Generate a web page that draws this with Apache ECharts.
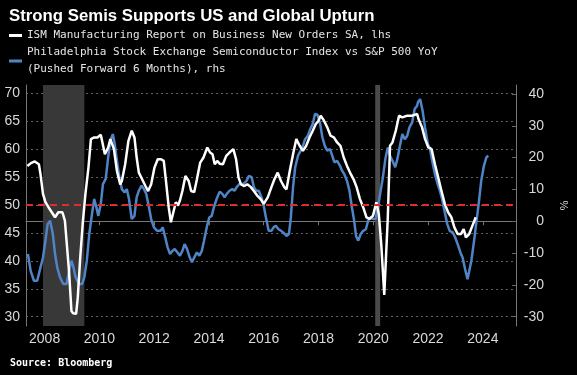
<!DOCTYPE html>
<html>
<head>
<meta charset="utf-8">
<style>
html,body{margin:0;padding:0;background:#000;}
#chart{width:577px;height:375px;}
</style>
<script src="https://cdn.jsdelivr.net/npm/echarts@6/dist/echarts.min.js"></script>
</head>
<body>
<div id="chart"></div>
<script>
// ---- Data (x in decimal years) ----
const yearTicks = [2008, 2010, 2012, 2014, 2016, 2018, 2020, 2022, 2024];
const leftTicks = [30, 35, 40, 45, 50, 55, 60, 65, 70];
const rightTicks = [-30, -20, -10, 0, 10, 20, 30, 40];
const recessionStart = [2007.94, 2020.07];
const recessionEnd = [2009.45, 2020.25];
const ismName = 'ISM Manufacturing Report on Business New Orders SA, lhs';
const semiName = 'Philadelphia Stock Exchange Semiconductor Index vs S&P 500 YoY\n(Pushed Forward 6 Months), rhs';

const ismDates = [2007.37,2007.50,2007.64,2007.79,2007.85,2007.94,2008.03,2008.14,2008.26,2008.38,2008.50,2008.65,2008.74,2008.80,2008.89,2008.98,2009.04,2009.15,2009.21,2009.30,2009.39,2009.49,2009.60,2009.69,2009.81,2009.93,2010.05,2010.11,2010.20,2010.32,2010.40,2010.53,2010.64,2010.76,2010.82,2010.94,2011.06,2011.18,2011.28,2011.36,2011.44,2011.56,2011.68,2011.78,2011.89,2012.01,2012.13,2012.25,2012.35,2012.43,2012.53,2012.61,2012.70,2012.79,2012.87,2012.94,2013.03,2013.14,2013.26,2013.35,2013.46,2013.56,2013.68,2013.80,2013.94,2014.04,2014.13,2014.21,2014.30,2014.39,2014.51,2014.63,2014.75,2014.89,2014.99,2015.08,2015.17,2015.29,2015.40,2015.53,2015.64,2015.76,2015.88,2016.00,2016.06,2016.15,2016.28,2016.39,2016.51,2016.63,2016.75,2016.83,2016.95,2017.07,2017.19,2017.31,2017.43,2017.55,2017.67,2017.79,2017.90,2017.99,2018.08,2018.20,2018.32,2018.44,2018.56,2018.68,2018.80,2018.92,2019.04,2019.15,2019.28,2019.39,2019.51,2019.63,2019.75,2019.87,2019.99,2020.11,2020.20,2020.29,2020.40,2020.53,2020.61,2020.70,2020.82,2020.94,2021.06,2021.24,2021.42,2021.60,2021.65,2021.78,2021.89,2022.01,2022.13,2022.25,2022.37,2022.49,2022.61,2022.73,2022.85,2022.96,2023.08,2023.20,2023.30,2023.38,2023.50,2023.62,2023.74];
const ismValues = [57.0,57.5,57.8,57.3,55.5,52.0,50.5,49.6,48.7,47.8,48.7,48.7,47.2,43.6,38.2,31.0,30.6,30.5,33.4,40.6,46.6,52.0,56.7,61.8,62.1,62.1,62.6,61.2,59.1,60.3,61.8,60.0,56.1,53.7,54.3,57.3,61.5,63.3,62.1,58.5,55.8,54.6,53.4,52.5,53.7,56.7,58.2,58.2,57.9,54.3,49.6,46.9,48.7,50.5,49.9,50.8,52.5,55.2,54.3,52.5,52.3,54.6,57.6,58.5,60.3,59.4,59.1,57.3,57.9,57.4,57.3,58.8,59.4,60.0,58.2,54.9,53.7,53.4,53.7,53.2,52.5,51.7,51.1,50.2,49.9,51.4,53.2,54.6,55.8,54.3,53.2,52.8,56.1,59.1,61.8,60.6,59.7,60.6,62.1,63.3,64.5,65.0,66.0,65.1,63.9,62.4,62.1,61.2,60.6,58.5,57.0,55.8,54.6,53.2,51.1,49.6,47.8,47.5,48.1,50.5,48.4,43.0,33.9,47.8,60.6,61.2,63.3,66.0,65.7,66.0,66.0,66.3,65.4,63.9,61.8,60.3,60.0,57.3,54.9,52.5,50.2,48.7,47.8,46.0,44.8,44.8,45.7,44.2,44.8,46.3,47.8];

const semiDates = [2007.39,2007.49,2007.61,2007.73,2007.85,2007.94,2008.03,2008.11,2008.20,2008.30,2008.38,2008.46,2008.56,2008.68,2008.80,2008.89,2008.98,2009.04,2009.13,2009.25,2009.37,2009.45,2009.54,2009.63,2009.73,2009.81,2009.89,2009.96,2010.05,2010.13,2010.23,2010.32,2010.40,2010.49,2010.56,2010.64,2010.73,2010.82,2010.92,2011.00,2011.08,2011.18,2011.28,2011.36,2011.44,2011.54,2011.63,2011.71,2011.80,2011.89,2011.99,2012.11,2012.23,2012.31,2012.39,2012.49,2012.58,2012.67,2012.75,2012.85,2012.94,2013.03,2013.11,2013.20,2013.30,2013.38,2013.46,2013.56,2013.65,2013.74,2013.82,2013.92,2014.01,2014.10,2014.18,2014.28,2014.39,2014.49,2014.57,2014.65,2014.75,2014.85,2014.93,2015.01,2015.11,2015.25,2015.37,2015.46,2015.56,2015.64,2015.73,2015.82,2015.92,2016.00,2016.08,2016.18,2016.28,2016.36,2016.44,2016.54,2016.63,2016.71,2016.83,2016.92,2016.99,2017.07,2017.15,2017.25,2017.35,2017.43,2017.51,2017.61,2017.70,2017.79,2017.87,2017.96,2018.06,2018.14,2018.23,2018.32,2018.42,2018.50,2018.58,2018.68,2018.78,2018.86,2018.94,2019.04,2019.13,2019.21,2019.30,2019.37,2019.45,2019.54,2019.63,2019.73,2019.81,2019.89,2019.99,2020.08,2020.17,2020.25,2020.35,2020.44,2020.53,2020.61,2020.70,2020.80,2020.88,2020.96,2021.06,2021.15,2021.24,2021.32,2021.42,2021.51,2021.60,2021.63,2021.71,2021.80,2021.89,2021.99,2022.07,2022.15,2022.25,2022.35,2022.43,2022.51,2022.61,2022.70,2022.79,2022.90,2022.99,2023.08,2023.18,2023.26,2023.35,2023.44,2023.50,2023.58,2023.68,2023.77,2023.86,2023.94,2024.04,2024.13,2024.20];
const semiValues = [-10.3,-15.6,-18.7,-18.7,-14.5,-11.4,-6.1,-0.9,0.2,-4.0,-10.3,-14.5,-17.6,-19.7,-19.7,-15.6,-12.4,-14.0,-17.6,-19.7,-19.7,-17.6,-12.4,-4.0,2.3,7.0,4.4,1.7,5.4,11.7,13.3,20.1,25.3,27.4,24.3,19.0,13.8,10.1,9.1,10.1,7.0,0.7,1.7,7.5,9.6,11.2,10.1,8.6,4.9,0.7,-1.9,-3.0,-3.0,-1.9,-4.6,-8.2,-10.3,-9.3,-8.7,-9.8,-10.8,-9.3,-7.2,-8.7,-11.4,-12.9,-11.4,-9.8,-10.8,-9.3,-6.1,-1.9,1.2,1.7,4.4,7.0,9.3,8.6,7.5,8.6,9.6,10.1,9.6,10.7,11.7,11.7,12.7,14.3,13.8,10.7,9.6,9.6,7.5,4.9,1.2,-3.0,-3.0,-1.9,-1.4,-2.5,-3.0,-3.5,-4.6,-4.0,1.2,10.7,17.0,20.6,22.2,23.7,25.8,26.9,29.0,30.6,33.7,33.5,30.6,26.4,23.7,22.2,22.7,20.6,18.5,19.0,17.5,15.9,14.8,12.7,9.6,4.9,0.2,-4.6,-6.1,-4.0,-3.0,-2.5,0.2,1.2,0.7,0.7,4.4,8.6,13.8,19.6,23.2,20.6,19.0,17.0,19.6,23.2,27.4,25.8,26.9,29.5,31.1,35.3,36.3,37.4,38.4,34.7,29.5,24.3,22.7,19.0,14.8,11.7,9.6,7.0,2.8,-0.9,-3.0,-3.5,-5.1,-7.2,-9.8,-11.4,-15.0,-18.2,-17.6,-12.4,-6.1,0.2,6.4,12.7,17.5,20.1,20.6];

const zeroLine = 50;
const shadeColors = ['#383838', '#4a4a4a'];

// ---- Chart ----
const chart = echarts.init(document.getElementById('chart'), null, {renderer: 'canvas'});
const labelFont = "'Liberation Sans', Arial, sans-serif";
const txt = '#d9d9d9';
const axisCol = '#777';

chart.setOption({
  backgroundColor: '#000',
  animation: false,
  title: [
    {text: 'Strong Semis Supports US and Global Upturn', left: 4, top: 3,
     textStyle: {color: '#fff', fontSize: 16.8, fontWeight: 'bold', fontFamily: labelFont}},
    {text: 'Source: Bloomberg', left: 5, top: 353,
     textStyle: {color: '#fff', fontSize: 10, fontWeight: 'bold', fontFamily: "'DejaVu Sans Mono', monospace"}}
  ],
  legend: {
    left: 4, top: 22, orient: 'vertical', itemGap: 0, itemWidth: 13, itemHeight: 3,
    icon: 'rect', selectedMode: false,
    textStyle: {color: '#e6e6e6', fontSize: 11, lineHeight: 17, fontFamily: "'DejaVu Sans Mono', monospace"},
    data: [ismName, semiName]
  },
  grid: {left: 26, right: 50, top: 85, bottom: 49, containLabel: false},
  xAxis: {
    type: 'value', min: 2007.32, max: 2025.21,
    axisLine: {show: true, lineStyle: {color: axisCol}},
    axisTick: {show: true, length: 4, lineStyle: {color: axisCol}, customValues: yearTicks},
    axisLabel: {color: txt, fontSize: 14, fontFamily: labelFont, margin: 6, customValues: yearTicks,
                formatter: v => String(v)},
    splitLine: {show: false}
  },
  yAxis: [
    {type: 'value', min: 28.33, max: 71.49, position: 'left',
     axisLine: {show: true, lineStyle: {color: axisCol}},
     axisTick: {show: false, customValues: leftTicks},
     axisLabel: {color: txt, fontSize: 14, fontFamily: labelFont, margin: 6, customValues: leftTicks},
     splitLine: {show: true, lineStyle: {color: '#606060', type: [2, 3], width: 1}}
    },
    {type: 'value', min: -32.92, max: 42.83, position: 'right',
     name: '%', nameLocation: 'middle', nameRotate: -90, nameGap: 42,
     nameTextStyle: {color: txt, fontSize: 11, fontFamily: labelFont},
     axisLine: {show: true, lineStyle: {color: axisCol}},
     axisTick: {show: true, inside: true, length: 4, lineStyle: {color: '#666'}, customValues: rightTicks},
     axisLabel: {color: txt, fontSize: 14, fontFamily: labelFont, margin: 28, align: 'right', customValues: rightTicks},
     splitLine: {show: false}
    }
  ],
  series: [
    {
      name: semiName, type: 'line', yAxisIndex: 1, showSymbol: false, smooth: false,
      lineStyle: {color: '#4f84c6', width: 2.5}, itemStyle: {color: '#4f84c6'},
      data: semiDates.map((d, i) => [d, semiValues[i]]),
      markArea: {
        silent: true,
        data: recessionStart.map((s, i) => [{xAxis: s, itemStyle: {color: shadeColors[i]}}, {xAxis: recessionEnd[i]}])
      },
      z: 2
    },
    {
      name: ismName, type: 'line', yAxisIndex: 0, showSymbol: false, smooth: false,
      lineStyle: {color: '#ffffff', width: 2.5}, itemStyle: {color: '#ffffff'},
      data: ismDates.map((d, i) => [d, ismValues[i]]),
      markLine: {
        silent: true, symbol: 'none', label: {show: false},
        lineStyle: {color: '#e32b2b', type: [7, 5], width: 2},
        data: [{yAxis: zeroLine}]
      },
      z: 3
    }
  ]
});
</script>
</body>
</html>
